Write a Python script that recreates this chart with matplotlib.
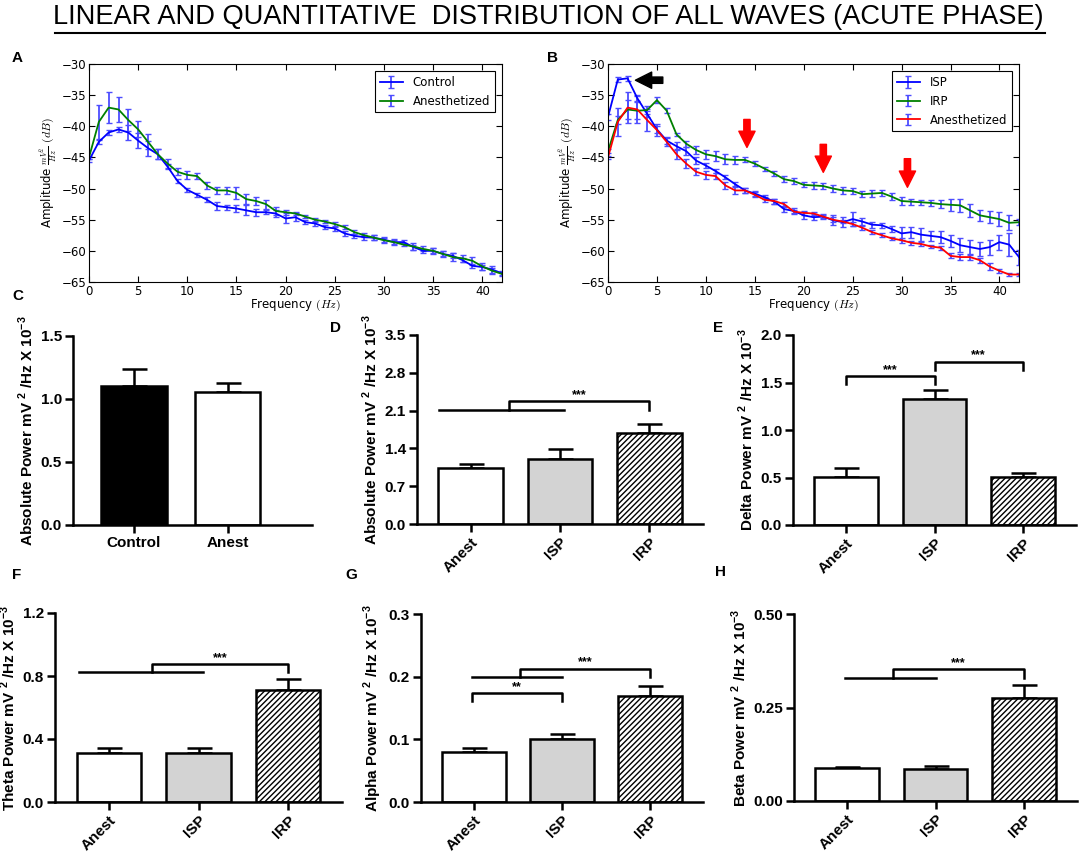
import numpy as np
import matplotlib
matplotlib.use('Agg')
import matplotlib.pyplot as plt
from matplotlib.lines import Line2D

W, H = 1084, 856

plt.rcParams['mathtext.fontset'] = 'custom'
plt.rcParams['mathtext.rm'] = 'Liberation Sans:bold'

# ---- spectrum data (panels A, B) ----
freq = [0, 1, 2, 3, 4, 5, 6, 7, 8, 9, 10, 11, 12, 13, 14, 15, 16, 17, 18, 19, 20,
        21, 22, 23, 24, 25, 26, 27, 28, 29, 30, 31, 32, 33, 34, 35, 36, 37, 38, 39, 40, 41, 42]

ctrl_a = [-45.5, -42.5, -41.0, -40.5, -41.0, -42.3, -43.5, -44.5, -46.5, -48.8, -50.2,
          -51.0, -51.8, -52.8, -53.0, -53.2, -53.5, -53.8, -53.8, -54.0, -54.8,
          -54.6, -55.4, -55.6, -56.2, -56.4, -57.2, -57.6, -57.8, -57.9, -58.2,
          -58.6, -58.6, -59.4, -60.0, -60.0, -60.5, -60.8, -61.5, -62.4, -62.6, -63.0, -63.6]
ctrl_a_err = [0.3, 0.3, 0.4, 0.4, 1.2, 1.2, 1.2, 0.8, 0.4, 0.3, 0.3, 0.3, 0.4, 0.6, 0.4,
              0.6, 0.8, 0.6, 0.3, 0.6, 0.8, 0.6, 0.3, 0.4, 0.3, 0.4, 0.4, 0.3, 0.4, 0.4,
              0.5, 0.5, 0.3, 0.4, 0.3, 0.4, 0.4, 0.4, 0.3, 0.3, 0.4, 0.5, 0.3]
anes_a = [-45.0, -39.3, -37.0, -37.3, -39.0, -40.5, -42.5, -44.5, -46.0, -47.3, -47.8,
          -48.0, -49.5, -50.3, -50.3, -50.7, -51.7, -52.0, -52.5, -53.6, -53.8,
          -54.0, -54.5, -55.0, -55.3, -55.7, -56.2, -57.0, -57.5, -57.9, -58.3,
          -58.6, -59.0, -59.3, -59.7, -60.0, -60.5, -61.0, -61.2, -61.6, -62.5, -63.2, -63.7]
anes_a_err = [0.3, 2.7, 2.5, 2.0, 1.7, 1.3, 1.2, 0.8, 0.7, 0.6, 0.6, 0.5, 0.6, 0.6, 0.6,
              0.9, 0.8, 0.7, 0.7, 0.6, 0.4, 0.3, 0.3, 0.3, 0.3, 0.4, 0.3, 0.3, 0.3, 0.4,
              0.3, 0.3, 0.3, 0.5, 0.4, 0.5, 0.5, 0.7, 0.6, 0.6, 0.5, 0.5, 0.3]

isp_b = [-38.5, -32.5, -32.3, -35.5, -38.0, -40.5, -42.3, -43.2, -44.0, -45.5, -46.3,
         -47.2, -48.2, -49.3, -50.3, -50.8, -51.4, -52.1, -53.3, -53.6, -54.3,
         -54.6, -54.5, -55.1, -55.4, -54.9, -55.3, -55.8, -55.9, -56.5, -57.2,
         -57.0, -57.4, -57.6, -57.8, -58.4, -59.1, -59.4, -59.7, -59.4, -58.6, -59.0, -61.0]
isp_b_err = [0.5, 0.4, 0.4, 0.5, 0.5, 0.5, 0.5, 0.6, 0.6, 0.5, 0.4, 0.3, 0.3, 0.3, 0.4,
             0.4, 0.3, 0.4, 0.5, 0.5, 0.6, 0.5, 0.4, 0.8, 0.8, 1.1, 0.6, 0.5, 0.4, 0.5,
             1.1, 0.9, 1.0, 0.8, 1.0, 1.0, 1.1, 1.1, 1.2, 1.2, 1.2, 1.9, 1.2]
irp_b = [-44.0, -39.0, -37.3, -37.5, -37.4, -35.8, -37.5, -41.3, -42.8, -43.8, -44.5,
         -44.8, -45.3, -45.4, -45.4, -46.0, -46.8, -47.6, -48.5, -48.8, -49.4,
         -49.5, -49.6, -50.0, -50.3, -50.4, -50.9, -50.8, -50.7, -51.3, -52.0,
         -52.1, -52.2, -52.3, -52.5, -52.6, -52.7, -53.5, -54.3, -54.6, -54.9, -55.5, -55.4]
irp_b_err = [0.3, 0.6, 1.5, 1.4, 0.7, 0.5, 0.4, 0.3, 0.5, 0.6, 0.7, 0.8, 0.8, 0.6, 0.4,
             0.4, 0.3, 0.4, 0.5, 0.5, 0.4, 0.5, 0.5, 0.5, 0.5, 0.5, 0.5, 0.5, 0.5, 0.6,
             0.7, 0.5, 0.4, 0.5, 0.6, 1.0, 1.1, 1.1, 0.9, 1.0, 1.1, 1.2, 0.5]
anes_b = [-45.0, -39.3, -37.0, -37.3, -39.0, -40.6, -42.5, -44.5, -46.0, -47.3, -47.8,
          -48.0, -49.5, -50.3, -50.3, -51.0, -51.8, -52.0, -52.5, -53.7, -53.9,
          -54.0, -54.5, -55.0, -55.3, -55.7, -56.3, -57.0, -57.5, -58.0, -58.3,
          -58.7, -58.9, -59.3, -59.5, -60.8, -61.0, -61.0, -61.5, -62.5, -63.2, -63.8, -63.8]
anes_b_err = [0.3, 2.3, 2.5, 2.1, 1.7, 1.0, 0.6, 0.8, 0.7, 0.6, 0.6, 0.5, 0.6, 0.5, 0.4,
              0.4, 0.4, 0.4, 0.4, 0.3, 0.3, 0.3, 0.3, 0.4, 0.3, 0.3, 0.3, 0.3, 0.3, 0.3,
              0.4, 0.3, 0.3, 0.3, 0.3, 0.4, 0.5, 0.4, 0.4, 0.6, 0.3, 0.3, 0.3]

# ---- bar data (panels C-H) ----
c_groups = ['Control', 'Anest']
c_mean = [1.10, 1.055]
c_err = [0.14, 0.07]

groups = ['Anest', 'ISP', 'IRP']
abs_mean = [1.04, 1.21, 1.68]
abs_err = [0.08, 0.18, 0.18]
delta_mean = [0.51, 1.33, 0.51]
delta_err = [0.09, 0.09, 0.04]
theta_mean = [0.314, 0.312, 0.71]
theta_err = [0.032, 0.028, 0.07]
alpha_mean = [0.0794, 0.101, 0.169]
alpha_err = [0.0074, 0.0077, 0.016]
beta_mean = [0.0875, 0.0857, 0.275]
beta_err = [0.0035, 0.008, 0.036]


def px(l, t, r, b):
    return [l / W, 1 - b / H, (r - l) / W, (b - t) / H]


fig = plt.figure(figsize=(W / 100, H / 100), dpi=100)

# title with underline
fig.text(0.5 + 6 / W, 1 - 17 / H, 'LINEAR AND QUANTITATIVE  DISTRIBUTION OF ALL WAVES (ACUTE PHASE)',
         ha='center', va='center', fontsize=19.6, family='Liberation Sans')
fig.add_artist(Line2D([55 / W, 1045 / W], [1 - 33 / H, 1 - 33 / H], color='black', lw=1.5))


def spectrum_ax(rect, series):
    ax = fig.add_axes(px(*rect))
    for y, e, col, lab in series:
        ax.errorbar(freq, y, yerr=e, color=col, ecolor='#4d4dff', elinewidth=1.3,
                    capsize=2, capthick=1, lw=1.3, label=lab)
    ax.set_xlim(0, 42)
    ax.set_ylim(-65, -30)
    ax.set_xticks(range(0, 41, 5))
    ax.set_yticks(range(-65, -29, 5))
    ax.tick_params(direction='in', labelsize=8.5, length=4, top=True, right=True, pad=2)
    ax.set_xlabel(r'Frequency $(\mathit{Hz})$', fontsize=8.5, labelpad=0,
                  math_fontfamily='cm')
    ax.set_ylabel(r'Amplitude $\frac{\mathit{mV^2}}{\mathit{Hz}}$ $(\mathit{dB})$',
                  fontsize=8.5, labelpad=1, math_fontfamily='cm')
    leg = ax.legend(loc='upper right', fontsize=8.5, fancybox=False, framealpha=1,
                    edgecolor='black', borderaxespad=0.6)
    leg.get_frame().set_linewidth(0.8)
    return ax


spectrum_ax((89, 64, 502, 282),
            [(ctrl_a, ctrl_a_err, 'b', 'Control'),
             (anes_a, anes_a_err, 'g', 'Anesthetized')])
axb = spectrum_ax((608, 64, 1019, 282),
                  [(isp_b, isp_b_err, 'b', 'ISP'),
                   (irp_b, irp_b_err, 'g', 'IRP'),
                   (anes_b, anes_b_err, 'r', 'Anesthetized')])
arrow_style = 'simple,head_width=0.9,head_length=0.9,tail_width=0.35'
axb.annotate('', xy=(2.8, -32.6), xytext=(5.6, -32.6),
             arrowprops=dict(arrowstyle=arrow_style, color='black', mutation_scale=13,
                             shrinkA=0, shrinkB=0))
for x0, ytop, ybot in [(14.2, -38.9, -43.4), (22.0, -42.9, -47.4), (30.6, -45.2, -49.8)]:
    axb.annotate('', xy=(x0, ybot), xytext=(x0, ytop),
                 arrowprops=dict(arrowstyle=arrow_style, color='red', mutation_scale=13,
                                 shrinkA=0, shrinkB=0))

BF = 'Liberation Sans'
fills = ['white', '#d3d3d3', 'white']
hatches = ['', '', '//////']


def bar_ax(rect, labels, means, errs, ymax, yticks, ylabel, tickfmt, colors, hatch,
           rot=45, bw=0.72):
    ax = fig.add_axes(px(*rect))
    x = np.arange(len(labels))
    ax.bar(x, means, width=bw, color=colors, edgecolor='black', linewidth=1.8,
           hatch=hatch, zorder=2)
    ax.errorbar(x, means, yerr=[np.zeros(len(errs)), errs], fmt='none', ecolor='black',
                elinewidth=1.8, capsize=9, capthick=1.8, zorder=1)
    ax.set_xlim(-0.6, len(labels) - 0.4)
    ax.set_ylim(0, ymax)
    ax.set_yticks(yticks)
    ax.set_yticklabels([tickfmt.format(v) for v in yticks])
    ax.set_xticks(x)
    if rot:
        ax.set_xticklabels(labels, rotation=45, ha='right', rotation_mode='anchor')
    else:
        ax.set_xticklabels(labels)
    for s in ['top', 'right']:
        ax.spines[s].set_visible(False)
    for s in ['left', 'bottom']:
        ax.spines[s].set_linewidth(1.8)
    ax.spines['left'].set_bounds(0, ymax)
    ax.tick_params(length=6, width=1.8, labelsize=11, pad=2)
    for t in ax.get_xticklabels() + ax.get_yticklabels():
        t.set_fontweight('bold')
        t.set_family(BF)
    ax.set_ylabel(ylabel, fontsize=11, fontweight='bold', family=BF, labelpad=3)
    return ax


def bracket(ax, x1, x2, y, drop, text=None):
    ax.plot([x1, x1, x2, x2], [y - drop, y, y, y - drop], color='black', lw=1.8,
            clip_on=False)
    if text:
        ax.text((x1 + x2) / 2, y, text, ha='center', va='bottom', fontsize=9,
                family=BF, fontweight='bold')


def group_bracket(ax, xl, xr, y_low, xm, y_high, xt, text):
    # line over the pooled groups, then a step up and across to the other group
    ax.plot([xl, xr], [y_low, y_low], color='black', lw=1.8, clip_on=False)
    ax.plot([xm, xm, xt, xt], [y_low, y_high, y_high, y_low], color='black', lw=1.8,
            clip_on=False)
    ax.text((xm + xt) / 2, y_high, text, ha='center', va='bottom', fontsize=9,
            family=BF, fontweight='bold')


def ylab(name):
    return name + r' Power mV $^{\mathrm{2}}$ /Hz X 10$^{\mathrm{-3}}$'


# C
axc = bar_ax((73, 336, 312, 525), c_groups, c_mean, c_err, 1.5, [0.0, 0.5, 1.0, 1.5],
             ylab('Absolute'), '{:.1f}', ['black', 'white'], ['', ''], rot=0, bw=0.7)
axc.set_xlim(-0.65, 1.9)

# D
axd = bar_ax((417, 335, 703, 524), groups, abs_mean, abs_err, 3.5,
             [0.0, 0.7, 1.4, 2.1, 2.8, 3.5], ylab('Absolute'), '{:.1f}', fills, hatches)
group_bracket(axd, -0.35, 1.04, 2.12, 0.43, 2.27, 2.0, '***')

# E
axe = bar_ax((793, 335, 1076, 525), groups, delta_mean, delta_err, 2.0,
             [0.0, 0.5, 1.0, 1.5, 2.0], ylab('Delta'), '{:.1f}', fills, hatches)
bracket(axe, 0.0, 1.0, 1.57, 0.09, '***')
bracket(axe, 1.0, 2.0, 1.72, 0.09, '***')

# F
axf = bar_ax((55, 613, 342, 802), groups, theta_mean, theta_err, 1.2,
             [0.0, 0.4, 0.8, 1.2], ylab('Theta'), '{:.1f}', fills, hatches)
group_bracket(axf, -0.33, 1.05, 0.828, 0.48, 0.877, 2.0, '***')

# G
axg = bar_ax((421, 614, 703, 802), groups, alpha_mean, alpha_err, 0.3,
             [0.0, 0.1, 0.2, 0.3], ylab('Alpha'), '{:.1f}', fills, hatches)
group_bracket(axg, -0.02, 1.0, 0.1998, 0.52, 0.213, 2.0, '***')
bracket(axg, -0.02, 1.0, 0.174, 0.013, '**')

# H
axh = bar_ax((794, 614, 1077, 801), groups, beta_mean, beta_err, 0.5,
             [0.0, 0.25, 0.5], ylab('Beta'), '{:.2f}', fills, hatches)
group_bracket(axh, -0.02, 1.0, 0.329, 0.52, 0.352, 2.0, '***')

# panel letters
for lab, xx, yy in [('A', 12, 58), ('B', 547, 58), ('C', 12, 296), ('D', 330, 328),
                    ('E', 713, 328), ('F', 12, 575), ('G', 345, 575), ('H', 715, 572)]:
    fig.text(xx / W, 1 - yy / H, lab, fontsize=11, fontweight='bold', family=BF,
             ha='left', va='center')

plt.savefig('out.png', dpi=100)
